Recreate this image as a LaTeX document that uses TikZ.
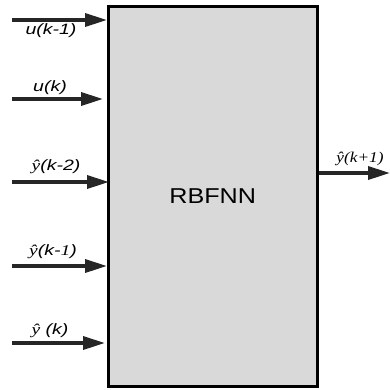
\documentclass[tikz,border=0pt]{standalone}
\usepackage{fontspec}
\setmainfont{Liberation Sans}
\newfontfamily\serifit{Liberation Serif}
\usetikzlibrary{arrows.meta}
\definecolor{arrowgray}{HTML}{262626}
\definecolor{boxgray}{HTML}{D9D9D9}
\newcommand{\yhat}{{\serifit\itshape ŷ}}
\newcommand{\wide}[1]{\scalebox{1.3}[1]{#1}}
\begin{document}
\begin{tikzpicture}[x=1pt,y=-1pt,
  inarrow/.style={line width=3.5pt, draw=arrowgray, -{Triangle[length=22pt,width=13pt]}},
  lbl/.style={inner sep=0pt, font=\fontsize{15}{15}\selectfont\itshape}]
\useasboundingbox (0,0) rectangle (390,389);
\node[draw, line width=2.5pt, fill=boxgray, minimum width=209pt, minimum height=380pt,
      inner sep=0pt, anchor=north west] (net) at (107,5) {};
\node[font=\fontsize{21.5}{21.5}\selectfont] (title) at (net.center) {\scalebox{1.17}[1]{RBFNN}};
% inputs
\coordinate (i1) at (12,20);
\coordinate (i2) at (12,99);
\coordinate (i3) at (12,182);
\coordinate (i4) at (12,266);
\coordinate (i5) at (12,343);
\draw[inarrow] (i1) -- (net.west |- i1);
\draw[inarrow, shorten >=4pt] (i2) -- (net.west |- i2);
\draw[inarrow, shorten >=-2pt] (i3) -- (net.west |- i3);
\draw[inarrow] (i4) -- (net.west |- i4);
\draw[inarrow, shorten >=2pt] (i5) -- (net.west |- i5);
% output
\coordinate (o1) at (390,173);
\draw[inarrow] (net.east |- o1) -- (o1);
% labels
\node[lbl] (l1) at (51,31) {\wide{u(k-1)}};
\node[lbl] (l2) at (50,88) {\wide{u(k)}};
\node[lbl] (l3) at (56,167) {\wide{\yhat(k-2)}};
\node[lbl] (l4) at (53,252) {\wide{\yhat(k-{\serifit\itshape 1})}};
\node[lbl] (l5) at (50,331) {\wide{\yhat\ (k)}};
\node[lbl, font=\fontsize{15}{15}\selectfont\serifit\itshape] (l6) at (360,159) {\scalebox{1.15}[1]{ŷ(k+1)}};
\end{tikzpicture}
\end{document}
